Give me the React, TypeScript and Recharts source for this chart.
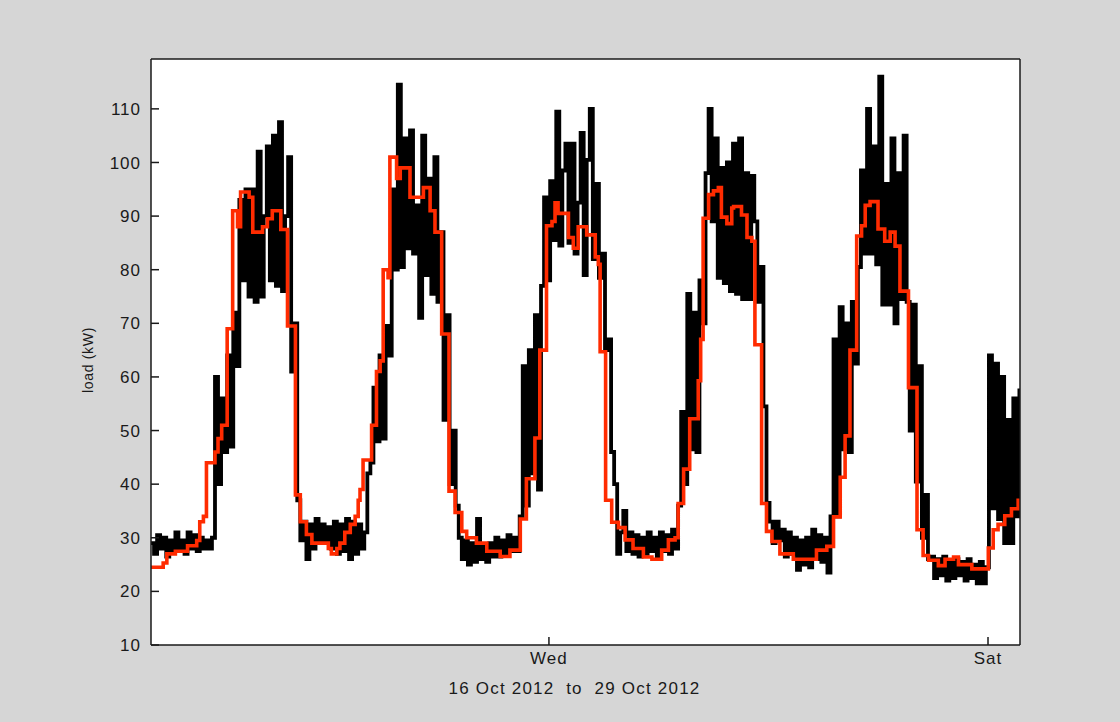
import React from 'react';
import { LineChart, Line, XAxis, YAxis, CartesianGrid } from 'recharts';

// Black series: measured load, sampled every half hour from the start of the window (hours 0, 0.5, 1, ...)
const blackStepHours = 0.5;
const blackLoad: number[] = [
  // h0-4
  29, 27, 30.5, 28, 30, 26.5, 29.5, 27.5, 31, 28,
  // h5-9
  29.5, 27, 31, 28, 30.5, 27.5, 30, 28, 29.5, 28,
  // h10-14
  30, 60, 40, 56, 46, 64, 47, 72, 62, 93,
  // h15-19
  78, 95, 75, 95, 74, 102, 75, 90, 103, 78,
  // h20-24
  105, 77, 107.5, 76, 90, 101, 61, 70, 37, 29.5,
  // h25-29
  33, 26, 32.5, 28, 33.5, 29, 32.5, 29, 32, 28,
  // h30-34
  33, 27, 32.5, 27.5, 33.5, 26, 33, 27, 32.5, 28,
  // h35-39
  31, 42, 44, 58, 48, 64, 48.5, 69.5, 64, 95,
  // h40-44
  80, 114.5, 80.5, 104.5, 84, 106, 83, 92, 71, 105,
  // h45-49
  79, 97, 75.5, 101, 74, 87, 52, 71.5, 40, 50,
  // h50-54
  36, 30, 26, 29.5, 25, 29, 25.5, 33.5, 26, 28.5,
  // h55-59
  25.5, 29, 26.5, 30, 26.5, 29.5, 27, 30.5, 27.5, 30,
  // h60-64
  27.5, 34, 62, 36, 65, 42, 71.5, 39, 77, 93.5,
  // h65-69
  78, 96.5, 85.5, 109.5, 84.5, 98.5, 103.5, 85, 103.5, 83,
  // h70-74
  92.5, 105.5, 79, 100.5, 110, 82, 96, 78.5, 83, 65,
  // h75-79
  67, 46, 40, 27, 31, 35, 27.5, 31, 27, 30.5,
  // h80-84
  26.5, 30, 27, 31, 27.5, 30, 26.5, 31, 27.5, 30.5,
  // h85-89
  27, 31.5, 28, 36, 53.5, 40, 75.5, 46.5, 72, 46,
  // h90-94
  78, 70, 98, 110, 89, 104.5, 78.5, 99, 77.5, 100,
  // h95-99
  76, 103.5, 75.5, 104.5, 74.5, 98, 74.5, 97.5, 89, 74,
  // h100-104
  80.5, 54.5, 36.5, 33, 29, 33, 29.5, 31.5, 26.5, 31,
  // h105-109
  27, 30, 24, 29.5, 25, 30, 24.5, 31.5, 26, 30.5,
  // h110-114
  25.5, 30, 23.5, 34, 67, 34, 73, 46.5, 70, 46,
  // h115-119
  74, 62.5, 80.5, 98.5, 83, 110, 83, 103, 81, 116,
  // h120-124
  73.5, 96, 73.5, 104.5, 70, 98, 74.5, 105, 74, 50,
  // h125-129
  73.5, 40.5, 62, 30, 38, 26, 26.5, 22.5, 26, 23,
  // h130-134
  26.5, 22, 25.5, 22.5, 26, 23, 25.5, 22, 26, 22.5,
  // h135-139
  25, 21.5, 25.5, 21.5, 24.5, 64, 35.5, 62.5, 33.5, 60,
  // h140-143
  29, 52, 29, 56, 34, 57.5, 40,
];

// Red series: forecast load, step changes (hours from window start)
const redHours: number[] = [
  0, 2.0, 2.6, 4.0, 6.0, 7.5, 8.0, 8.6, 9.1, 10.5, 11.0, 11.6, 12.5, 13.4, 14.2, 14.7, 16.1, 16.7, 18.3, 19.1,
  19.9, 21.3, 22.4, 23.7, 24.5, 25.5, 26.4, 29.1, 29.6, 30.5, 31.0, 31.8, 32.7, 33.5, 34.0, 34.3, 34.8, 36.2, 37.0, 37.6,
  38.1, 38.9, 39.2, 40.3, 40.9, 42.5, 44.7, 45.8, 46.6, 47.7, 48.9, 49.9, 51.0, 51.8, 53.4, 55.1, 57.3, 58.9, 60.6, 61.6,
  63.0, 63.8, 64.9, 65.8, 66.3, 66.8, 68.5, 69.3, 70.1, 71.5, 72.9, 73.4, 73.7, 74.6, 75.6, 76.7, 77.8, 79.1, 80.8, 82.2,
  83.8, 84.9, 86.0, 86.5, 87.4, 88.4, 89.8, 90.2, 90.6, 91.5, 92.3, 93.1, 93.6, 94.5, 95.3, 95.6, 96.9, 97.8, 98.6, 99.1,
  100.2, 101.0, 101.9, 103.2, 105.4, 109.2, 110.9, 112.0, 113.1, 113.9, 114.7, 115.8, 116.6, 117.2, 118.0, 119.3, 120.4, 121.3, 122.1, 122.9,
  124.3, 125.7, 126.7, 127.6, 129.2, 130.3, 131.7, 132.5, 134.7, 137.4, 138.2, 139.0, 140.1, 141.2, 142.3, 143,
];
const redLoad: number[] = [
  24.5, 25.3, 27, 27.5, 28.5, 29.5, 33, 34, 44, 46, 48.5, 51, 69, 91, 88, 94.5, 93.5, 87, 88, 89.5,
  91, 87.5, 69.5, 38, 33, 30.6, 29, 28, 27, 28, 29, 31, 32.5, 34, 37, 39, 44.5, 51, 61, 63,
  80, 78.5, 101, 97, 99, 93.5, 95.3, 91, 87, 68, 38.7, 34.7, 31.2, 30, 29, 27.5, 26.5, 27.7, 33.5, 41,
  48.6, 65, 88.2, 89, 92.5, 90.5, 86, 84, 88, 86.5, 82.4, 81, 64.7, 37, 32.9, 31.9, 29.6, 28, 26.4, 26,
  27.7, 29.6, 30, 36.4, 42.8, 52.2, 59.3, 67, 89.6, 94, 94.7, 95.3, 89.8, 88.6, 91.5, 91.8, 90.2, 86, 85.3, 66,
  36.4, 31.2, 29.3, 27, 26, 27.7, 28.4, 33.9, 41.3, 49, 65, 86.3, 88.2, 92, 92.7, 87.6, 85.3, 87, 84.4, 76,
  58, 31.5, 26.7, 25.8, 24.8, 26, 26.4, 25, 24.2, 28.1, 31.5, 32.5, 34.1, 35.4, 37, 37.5,
];

const xDomain: [number, number] = [0, 142.6];
const xTickHours = [65.3, 137.35];
const xTickLabels = ['Wed', 'Sat'];
const yDomain: [number, number] = [10, 119.3];
const yTicks = [10, 20, 30, 40, 50, 60, 70, 80, 90, 100, 110];
const xAxisTitle = '16 Oct 2012  to  29 Oct 2012';
const yAxisTitle = 'load (kW)';

const blackData = blackLoad.map((v, i) => ({ t: i * blackStepHours, load: v }));
const redData = redHours.map((t, i) => ({ t, load: redLoad[i] }));

const FONT = '"Liberation Sans", Arial, Helvetica, sans-serif';
const INK = '#1a1a1a';
const tickStyle = { fill: INK, fontSize: 17, fontFamily: FONT, letterSpacing: 1 };

const XTitle = (props: any) => {
  const vb = props.viewBox || { x: 151, y: 645, width: 869, height: 77 };
  return (
    <text
      x={vb.x + vb.width / 2 - 11}
      y={vb.y + 49}
      textAnchor="middle"
      fill={INK}
      fontSize={17}
      fontFamily={FONT}
      letterSpacing={1.2}
      style={{ whiteSpace: 'pre' }}
    >
      {xAxisTitle}
    </text>
  );
};

const YTitle = (props: any) => {
  const vb = props.viewBox || { x: 0, y: 59, width: 151, height: 586 };
  const cx = vb.x + 88;
  const cy = vb.y + vb.height / 2 + 8;
  return (
    <text
      x={cx}
      y={cy}
      transform={`rotate(-90, ${cx}, ${cy})`}
      textAnchor="middle"
      dominantBaseline="central"
      fill={INK}
      fontSize={14}
      fontFamily={FONT}
      letterSpacing={0.7}
    >
      {yAxisTitle}
    </text>
  );
};

export default function App() {
  return (
    <div
      style={{
        position: 'absolute',
        left: 0,
        top: 0,
        width: 1120,
        height: 722,
        background: '#d6d6d6',
      }}
    >
      <LineChart width={1120} height={722} margin={{ top: 0, right: 0, bottom: 0, left: 0 }}>
        <CartesianGrid fill="#ffffff" stroke="none" horizontal={false} vertical={false} />
        <XAxis
          xAxisId="main"
          type="number"
          dataKey="t"
          domain={xDomain}
          allowDataOverflow
          ticks={xTickHours}
          interval={0}
          tickFormatter={(v: number) => xTickLabels[xTickHours.indexOf(v)] ?? ''}
          height={77}
          tickSize={-8}
          tickMargin={15}
          tick={tickStyle}
          axisLine={{ stroke: INK, strokeWidth: 1.5 }}
          tickLine={{ stroke: INK, strokeWidth: 1.5 }}
          label={{ content: XTitle }}
        />
        <XAxis
          xAxisId="top"
          orientation="top"
          type="number"
          dataKey="t"
          domain={xDomain}
          allowDataOverflow
          ticks={xTickHours}
          interval={0}
          height={59}
          tickSize={-8}
          tick={false}
          axisLine={{ stroke: INK, strokeWidth: 1.5 }}
          tickLine={{ stroke: INK, strokeWidth: 1.5 }}
        />
        <YAxis
          yAxisId="main"
          type="number"
          domain={yDomain}
          allowDataOverflow
          ticks={yTicks}
          interval={0}
          width={151}
          tickSize={-8}
          tickMargin={18}
          tick={tickStyle}
          axisLine={{ stroke: INK, strokeWidth: 1.5 }}
          tickLine={{ stroke: INK, strokeWidth: 1.5 }}
          label={{ content: YTitle }}
        />
        <YAxis
          yAxisId="right"
          orientation="right"
          type="number"
          domain={yDomain}
          allowDataOverflow
          ticks={yTicks}
          interval={0}
          width={100}
          tickSize={-8}
          tick={false}
          axisLine={{ stroke: INK, strokeWidth: 1.5 }}
          tickLine={{ stroke: INK, strokeWidth: 1.5 }}
        />
        <Line
          xAxisId="main"
          yAxisId="main"
          data={blackData}
          dataKey="load"
          type="stepAfter"
          stroke="#000000"
          strokeWidth={3.8}
          dot={false}
          activeDot={false}
          isAnimationActive={false}
        />
        <Line
          xAxisId="main"
          yAxisId="main"
          data={redData}
          dataKey="load"
          type="stepAfter"
          stroke="#ff2b00"
          strokeWidth={3.6}
          dot={false}
          activeDot={false}
          isAnimationActive={false}
        />
      </LineChart>
    </div>
  );
}
